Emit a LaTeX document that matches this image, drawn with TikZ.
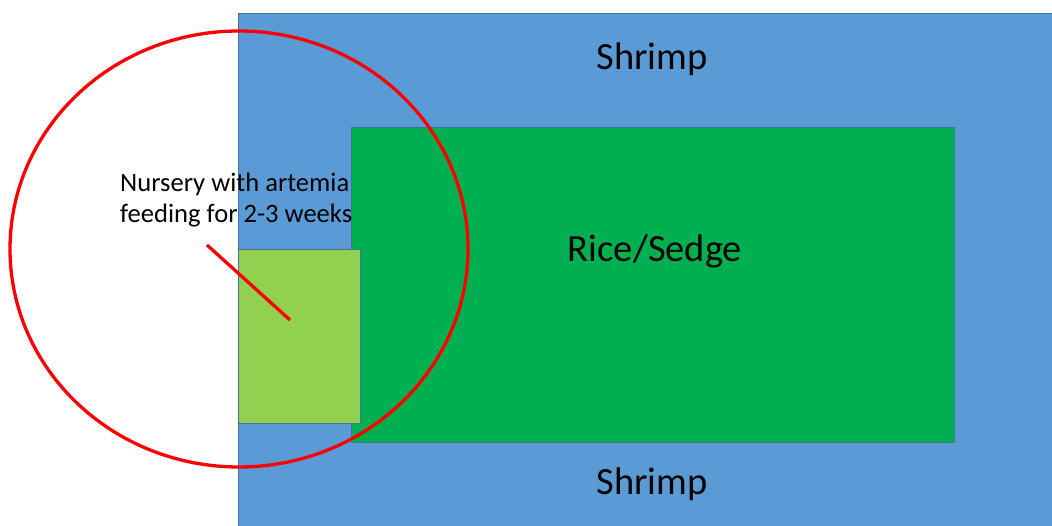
\documentclass[tikz,border=0pt]{standalone}
\usepackage{fontspec}
\setmainfont{Carlito}
\definecolor{pondblue}{HTML}{5B9BD5}
\definecolor{pondedge}{HTML}{41719C}
\definecolor{ricegreen}{HTML}{00B050}
\definecolor{nurserygreen}{HTML}{92D050}
\begin{document}
\begin{tikzpicture}[x=1pt,y=-1pt,
  area/.style={draw=pondedge,line width=1pt},
  bigtext/.style={font=\fontsize{38.5}{44}\selectfont,anchor=base,inner sep=0pt},
  smalltext/.style={font=\fontsize{26.6}{31}\selectfont,anchor=base west,inner sep=0pt},
  redline/.style={draw=red,line width=3.3pt}]
\useasboundingbox (0,0) rectangle (1052,526);
\clip (0,0) rectangle (1052,526);
\path[area,fill=pondblue] (238,14) rectangle (1070,545);
\node[area,fill=ricegreen,minimum width=603pt,minimum height=315pt,inner sep=0pt,anchor=north west] (rice) at (351,127) {};
\node[area,fill=nurserygreen,minimum width=122pt,minimum height=174pt,inner sep=0pt,anchor=north west] (nursery) at (238,249) {};
\node[bigtext] (shrimptop) at (652,70) {Shrimp};
\node[bigtext] (shrimpbot) at (652,494) {Shrimp};
\node[bigtext] (ricelabel) at (655,262) {Rice/Sedge};
\node[smalltext] (note1) at (120,192) {Nursery with artemia};
\node[smalltext] (note2) at (120,223) {feeding for 2-3 weeks};
\draw[redline] (239,249) ellipse [x radius=229, y radius=218];
\coordinate (pa) at (207,245);
\coordinate (pb) at (290,320);
\draw[redline] (pa) -- (pb);
\end{tikzpicture}
\end{document}
